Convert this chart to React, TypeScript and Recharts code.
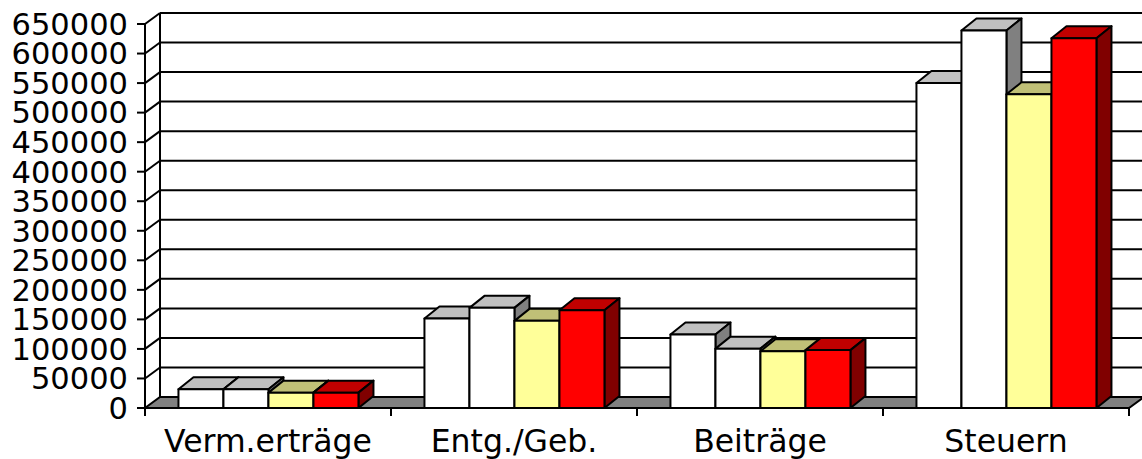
import { Bar, BarChart, CartesianGrid, XAxis, YAxis } from "recharts";

const categories = ["Verm.erträge", "Entg./Geb.", "Beiträge", "Steuern"];
const reihe1 = [31700, 151500, 124500, 550000];
const reihe2 = [31700, 169500, 100500, 639000];
const reihe3 = [26000, 147500, 96000, 531000];
const reihe4 = [26000, 165500, 98000, 626000];
const yTicks = [
  0, 50000, 100000, 150000, 200000, 250000, 300000, 350000, 400000, 450000,
  500000, 550000, 600000, 650000,
];

const SERIES = [
  { key: "r1", values: reihe1, front: "#ffffff", top: "#c0c0c0", side: "#808080" },
  { key: "r2", values: reihe2, front: "#ffffff", top: "#c0c0c0", side: "#808080" },
  { key: "r3", values: reihe3, front: "#ffff99", top: "#c0c077", side: "#80804d" },
  { key: "r4", values: reihe4, front: "#ff0000", top: "#c00000", side: "#800000" },
];

const data = categories.map((name, i) => {
  const row: Record<string, string | number> = { name };
  SERIES.forEach((s) => (row[s.key] = s.values[i]));
  return row;
});

// 3d depth of bars and of the walls
const DX = 15;
const DY = 12;
const WALL_DY = 11;
const Y_FONT = { fill: "#000", fontSize: 30.5, fontFamily: "DejaVu Sans" };
const X_FONT = { fill: "#000", fontSize: 31.5, fontFamily: "DejaVu Sans" };

function Box3D(props: any) {
  const { x, y, width, height, front, top, side } = props;
  if (width == null || height == null || isNaN(y)) return null;
  return (
    <g stroke="#000" strokeWidth={2} strokeLinejoin="round">
      <polygon
        points={`${x},${y} ${x + DX},${y - DY} ${x + width + DX},${y - DY} ${x + width},${y}`}
        fill={top}
      />
      <polygon
        points={`${x + width},${y} ${x + width + DX},${y - DY} ${x + width + DX},${y + height - DY} ${x + width},${y + height}`}
        fill={side}
      />
      <rect x={x} y={y} width={width} height={height} fill={front} />
    </g>
  );
}

function WallLine(props: any) {
  const { x1, x2, y1 } = props;
  const pts: number[] = props.horizontalPoints ?? [];
  const top = props.y ?? Math.min(...pts);
  const bottom = props.height != null ? props.y + props.height : Math.max(...pts);
  const isFloor = Math.abs(y1 - bottom) < 0.5;

  if (isFloor) {
    const n = categories.length;
    const step = (x2 - x1) / n;
    return (
      <g key={props.key} stroke="#000" strokeWidth={2}>
        <polygon
          points={`${x1},${y1} ${x2},${y1} ${x2 + DX},${y1 - WALL_DY} ${x1 + DX},${y1 - WALL_DY}`}
          fill="#808080"
        />
        <line x1={x1 + DX} y1={top - WALL_DY} x2={x1 + DX} y2={bottom - WALL_DY} />
        {Array.from({ length: n + 1 }, (_, k) => (
          <line key={k} x1={x1 + k * step} y1={y1} x2={x1 + k * step} y2={y1 + 8} />
        ))}
      </g>
    );
  }
  return (
    <g key={props.key} stroke="#000" strokeWidth={2} fill="none">
      <line x1={x1} y1={y1} x2={x1 + DX} y2={y1 - WALL_DY} />
      <line x1={x1 + DX} y1={y1 - WALL_DY} x2={x2 + DX} y2={y1 - WALL_DY} />
    </g>
  );
}

export default function App() {
  return (
    <div style={{ position: "absolute", left: 0, top: 0 }}>
      <BarChart
        width={1142}
        height={459}
        data={data}
        margin={{ top: 24, right: 13, left: 0, bottom: 0 }}
        barCategoryGap="13.6%"
        barGap={0}
      >
        <CartesianGrid vertical={false} horizontal={WallLine} />
        <XAxis
          dataKey="name"
          height={51}
          axisLine={{ stroke: "#000", strokeWidth: 2 }}
          tickLine={false}
          tickSize={0}
          tickMargin={22}
          tick={X_FONT}
          interval={0}
        />
        <YAxis
          width={145}
          domain={[0, 650000]}
          ticks={yTicks}
          interval={0}
          axisLine={{ stroke: "#000", strokeWidth: 2 }}
          tickLine={{ stroke: "#000", strokeWidth: 2 }}
          tickSize={8}
          tickMargin={9}
          tick={Y_FONT}
        />
        {SERIES.map((s) => (
          <Bar
            key={s.key}
            dataKey={s.key}
            isAnimationActive={false}
            shape={(p: any) => <Box3D {...p} front={s.front} top={s.top} side={s.side} />}
          />
        ))}
      </BarChart>
    </div>
  );
}
